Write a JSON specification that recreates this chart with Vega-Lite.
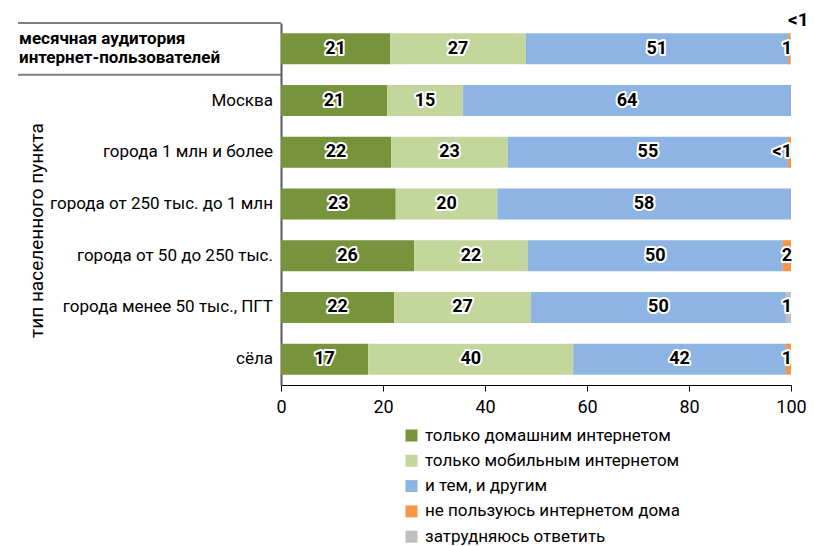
{
  "$schema": "https://vega.github.io/schema/vega-lite/v6.json",
  "padding": {"left": 17, "top": 10, "right": 5, "bottom": 0},
  "autosize": {"type": "pad"},
  "config": {"view": {"stroke": null}, "font": "Roboto", "text": {"font": "Roboto"}},
  "datasets": {
    "d": [
      {"row": "месячная аудитория\nинтернет-пользователей", "hdr": true, "cat": "только домашним интернетом", "ord": 1, "value": 21.4, "lbl": "21"},
      {"row": "месячная аудитория\nинтернет-пользователей", "hdr": true, "cat": "только мобильным интернетом", "ord": 2, "value": 26.6, "lbl": "27"},
      {"row": "месячная аудитория\nинтернет-пользователей", "hdr": true, "cat": "и тем, и другим", "ord": 3, "value": 51.4, "lbl": "51"},
      {"row": "месячная аудитория\nинтернет-пользователей", "hdr": true, "cat": "не пользуюсь интернетом дома", "ord": 4, "value": 0.4, "lbl": "1"},
      {"row": "месячная аудитория\nинтернет-пользователей", "hdr": true, "cat": "затрудняюсь ответить", "ord": 5, "value": 0.2, "lbl": "<1"},
      {"row": "Москва", "hdr": false, "cat": "только домашним интернетом", "ord": 1, "value": 20.8, "lbl": "21"},
      {"row": "Москва", "hdr": false, "cat": "только мобильным интернетом", "ord": 2, "value": 14.9, "lbl": "15"},
      {"row": "Москва", "hdr": false, "cat": "и тем, и другим", "ord": 3, "value": 64.3, "lbl": "64"},
      {"row": "города 1 млн и более", "hdr": false, "cat": "только домашним интернетом", "ord": 1, "value": 21.6, "lbl": "22"},
      {"row": "города 1 млн и более", "hdr": false, "cat": "только мобильным интернетом", "ord": 2, "value": 22.9, "lbl": "23"},
      {"row": "города 1 млн и более", "hdr": false, "cat": "и тем, и другим", "ord": 3, "value": 54.9, "lbl": "55"},
      {"row": "города 1 млн и более", "hdr": false, "cat": "не пользуюсь интернетом дома", "ord": 4, "value": 0.6, "lbl": "<1"},
      {"row": "города от 250 тыс. до 1 млн", "hdr": false, "cat": "только домашним интернетом", "ord": 1, "value": 22.5, "lbl": "23"},
      {"row": "города от 250 тыс. до 1 млн", "hdr": false, "cat": "только мобильным интернетом", "ord": 2, "value": 19.9, "lbl": "20"},
      {"row": "города от 250 тыс. до 1 млн", "hdr": false, "cat": "и тем, и другим", "ord": 3, "value": 57.6, "lbl": "58"},
      {"row": "города от 50 до 250 тыс.", "hdr": false, "cat": "только домашним интернетом", "ord": 1, "value": 26.1, "lbl": "26"},
      {"row": "города от 50 до 250 тыс.", "hdr": false, "cat": "только мобильным интернетом", "ord": 2, "value": 22.3, "lbl": "22"},
      {"row": "города от 50 до 250 тыс.", "hdr": false, "cat": "и тем, и другим", "ord": 3, "value": 50.0, "lbl": "50"},
      {"row": "города от 50 до 250 тыс.", "hdr": false, "cat": "не пользуюсь интернетом дома", "ord": 4, "value": 1.6, "lbl": "2"},
      {"row": "города менее 50 тыс., ПГТ", "hdr": false, "cat": "только домашним интернетом", "ord": 1, "value": 22.2, "lbl": "22"},
      {"row": "города менее 50 тыс., ПГТ", "hdr": false, "cat": "только мобильным интернетом", "ord": 2, "value": 26.8, "lbl": "27"},
      {"row": "города менее 50 тыс., ПГТ", "hdr": false, "cat": "и тем, и другим", "ord": 3, "value": 50.0, "lbl": "50"},
      {"row": "города менее 50 тыс., ПГТ", "hdr": false, "cat": "затрудняюсь ответить", "ord": 5, "value": 1.0, "lbl": "1"},
      {"row": "сёла", "hdr": false, "cat": "только домашним интернетом", "ord": 1, "value": 17.1, "lbl": "17"},
      {"row": "сёла", "hdr": false, "cat": "только мобильным интернетом", "ord": 2, "value": 40.2, "lbl": "40"},
      {"row": "сёла", "hdr": false, "cat": "и тем, и другим", "ord": 3, "value": 41.7, "lbl": "42"},
      {"row": "сёла", "hdr": false, "cat": "не пользуюсь интернетом дома", "ord": 4, "value": 1.0, "lbl": "1"}
    ]
  },
  "spacing": 0,
  "bounds": "flush",
  "resolve": {"scale": {"y": "independent"}},
  "hconcat": [
    {
      "width": 263,
      "height": 362,
      "data": {"name": "d"},
      "transform": [{"filter": "datum.ord == 1"}],
      "encoding": {
        "y": {
          "field": "row", "type": "nominal", "sort": null,
          "scale": {"paddingInner": 0, "paddingOuter": 0},
          "axis": {"labels": false, "ticks": false, "domain": false, "title": "тип населенного пункта", "minExtent": 0,
                   "titleX": 28, "titleY": 207, "titleFontSize": 19, "titleFontWeight": "normal", "titleColor": "black"}
        }
      },
      "layer": [
        {
          "transform": [{"filter": "datum.hdr"}],
          "mark": {"type": "text", "align": "left", "baseline": "middle", "fontWeight": "bold", "fontSize": 17, "lineBreak": "\n", "lineHeight": 19, "dx": 1, "dy": -9.5, "color": "black"},
          "encoding": {
            "x": {"datum": 0, "type": "quantitative", "scale": {"domain": [0, 1]}, "axis": null},
            "text": {"field": "row"}
          }
        },
        {
          "transform": [{"filter": "!datum.hdr"}],
          "mark": {"type": "text", "align": "right", "baseline": "middle", "fontSize": 17, "dx": -8, "color": "black"},
          "encoding": {
            "x": {"datum": 1, "type": "quantitative"},
            "text": {"field": "row"}
          }
        },
        {
          "transform": [{"filter": "datum.hdr"}],
          "mark": {"type": "rule", "color": "black", "strokeWidth": 1.2},
          "encoding": {
            "x": {"datum": 0, "type": "quantitative"},
            "x2": {"datum": 1},
            "y": {"field": "row", "type": "nominal", "sort": null, "bandPosition": 0}
          }
        },
        {
          "transform": [{"filter": "datum.hdr"}],
          "mark": {"type": "rule", "color": "#7f7f7f", "strokeWidth": 2},
          "encoding": {
            "x": {"datum": 0, "type": "quantitative"},
            "x2": {"datum": 1},
            "y": {"field": "row", "type": "nominal", "sort": null, "bandPosition": 1}
          }
        }
      ]
    },
    {
      "width": 510,
      "height": 362,
      "data": {"name": "d"},
      "transform": [
        {"stack": "value", "groupby": ["row"], "sort": [{"field": "ord", "order": "ascending"}], "as": ["x0", "x1"]},
        {"calculate": "(datum.x0 + datum.x1) / 2", "as": "mid"}
      ],
      "encoding": {
        "y": {
          "field": "row", "type": "nominal", "sort": null,
          "scale": {"paddingInner": 0.4, "paddingOuter": 0.2},
          "axis": {"labels": false, "ticks": false, "title": null, "domainColor": "#595959", "domainWidth": 2, "minExtent": 0, "maxExtent": 0}
        }
      },
      "layer": [
        {
          "mark": {"type": "bar"},
          "encoding": {
            "x": {
              "field": "x0", "type": "quantitative",
              "scale": {"domain": [0, 100], "nice": false},
              "axis": {"values": [0, 20, 40, 60, 80, 100], "grid": false, "title": null, "tickSize": 6,
                       "tickColor": "black", "domainColor": "black", "labelFontSize": 18, "labelColor": "black",
                       "labelPadding": 7, "labelFlush": false}
            },
            "x2": {"field": "x1"},
            "color": {
              "field": "cat", "type": "nominal",
              "scale": {
                "domain": ["только домашним интернетом", "только мобильным интернетом", "и тем, и другим", "не пользуюсь интернетом дома", "затрудняюсь ответить"],
                "range": ["#77933c", "#c3d69b", "#8eb4e3", "#f79646", "#bfbfbf"]
              },
              "legend": {
                "title": null, "orient": "none", "legendX": 385, "legendY": 404, "direction": "vertical",
                "symbolType": "square", "symbolSize": 144, "symbolStrokeWidth": 0, "labelFontSize": 17,
                "labelColor": "black", "labelOffset": 5, "rowPadding": 7.3, "labelLimit": 400
              }
            }
          }
        },
        {
          "transform": [{"filter": "datum.value >= 3"}],
          "mark": {"type": "text", "fontSize": 18, "fontWeight": "bold", "stroke": "white", "strokeWidth": 4, "strokeJoin": "round", "baseline": "middle"},
          "encoding": {"x": {"field": "mid", "type": "quantitative"}, "text": {"field": "lbl"}}
        },
        {
          "transform": [{"filter": "datum.value >= 3"}],
          "mark": {"type": "text", "fontSize": 18, "fontWeight": "bold", "color": "black", "baseline": "middle"},
          "encoding": {"x": {"field": "mid", "type": "quantitative"}, "text": {"field": "lbl"}}
        },
        {
          "transform": [{"filter": "datum.value < 3 && !(datum.hdr && datum.ord == 5)"}],
          "mark": {"type": "text", "fontSize": 18, "fontWeight": "bold", "stroke": "white", "strokeWidth": 4, "strokeJoin": "round", "baseline": "middle", "align": "right", "dx": 1},
          "encoding": {"x": {"datum": 100, "type": "quantitative"}, "text": {"field": "lbl"}}
        },
        {
          "transform": [{"filter": "datum.value < 3 && !(datum.hdr && datum.ord == 5)"}],
          "mark": {"type": "text", "fontSize": 18, "fontWeight": "bold", "color": "black", "baseline": "middle", "align": "right", "dx": 1},
          "encoding": {"x": {"datum": 100, "type": "quantitative"}, "text": {"field": "lbl"}}
        },
        {
          "transform": [{"filter": "datum.hdr && datum.ord == 5"}],
          "mark": {"type": "text", "fontSize": 19, "fontWeight": "bold", "color": "black", "baseline": "middle", "align": "left", "dx": -3, "dy": -29},
          "encoding": {"x": {"datum": 100, "type": "quantitative"}, "text": {"field": "lbl"}}
        }
      ]
    }
  ]
}
